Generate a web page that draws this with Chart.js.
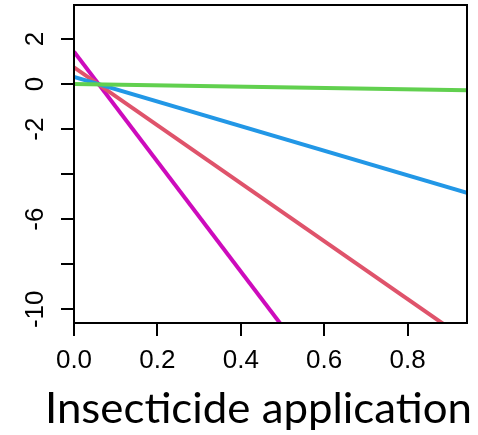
<!DOCTYPE html>
<html>
<head>
<meta charset="utf-8">
<script src="https://cdn.jsdelivr.net/npm/chart.js@4"></script>
<style>
  html, body { margin: 0; padding: 0; background: #fff; }
  canvas { display: block; }
</style>
</head>
<body>
<canvas id="c" width="478" height="435"></canvas>
<script>
// fitted effect lines: value at the left edge and at the right edge of the x range
const xEnds = [0, 0.9425];
const magentaY = [1.44, -21.56];
const redY = [0.74, -11.38];
const blueY = [0.32, -4.83];
const greenY = [0.0, -0.27];

const xTicks = [0, 0.2, 0.4, 0.6, 0.8];
const xTickLabels = ['0.0', '0.2', '0.4', '0.6', '0.8'];
const yTicks = [-10, -8, -6, -4, -2, 0, 2];
const yTickLabels = ['-10', '', '-6', '', '-2', '0', '2'];
const xTitle = 'Insecticide application';

const pts = ys => xEnds.map((x, i) => ({ x, y: ys[i] }));

function series(ys, color) {
  return {
    data: pts(ys),
    borderColor: color,
    borderWidth: 4,
    pointRadius: 0,
    tension: 0,
    clip: 0,
  };
}

// box around the plot, rotated y labels, x labels and the axis title
const frame = {
  id: 'frame',
  afterDraw(chart) {
    const { ctx, chartArea: a, scales } = chart;
    ctx.save();
    ctx.strokeStyle = '#000';
    ctx.lineWidth = 2;
    ctx.strokeRect(a.left, a.top, a.right - a.left, a.bottom - a.top);

    ctx.fillStyle = '#000';
    ctx.font = '26px "Liberation Sans", Arial, sans-serif';
    ctx.textAlign = 'center';
    ctx.textBaseline = 'alphabetic';
    xTicks.forEach((v, i) => {
      ctx.fillText(xTickLabels[i], scales.x.getPixelForValue(v), 368);
    });

    yTicks.forEach((v, i) => {
      if (!yTickLabels[i]) return;
      ctx.save();
      ctx.translate(43, scales.y.getPixelForValue(v));
      ctx.rotate(-Math.PI / 2);
      ctx.fillText(yTickLabels[i], 0, 0);
      ctx.restore();
    });

    ctx.font = '42px Lato, "Open Sans", sans-serif';
    ctx.textAlign = 'left';
    const w = ctx.measureText(xTitle).width;
    ctx.translate(45, 423);
    ctx.scale(427 / w, 1);
    ctx.fillText(xTitle, 0, 0);
    ctx.restore();
  }
};

const tickGrid = {
  display: true,
  drawOnChartArea: false,
  drawTicks: true,
  tickLength: 13,
  color: '#000',
  lineWidth: 2,
};

new Chart(document.getElementById('c'), {
  type: 'line',
  data: {
    datasets: [
      series(greenY, '#61D04F'),
      series(blueY, '#2297E6'),
      series(redY, '#DF536B'),
      series(magentaY, '#CD0BBC'),
    ],
  },
  options: {
    responsive: false,
    animation: false,
    layout: { padding: { left: 0, top: 5, right: 11, bottom: 0 } },
    plugins: { legend: { display: false }, tooltip: { enabled: false } },
    scales: {
      x: {
        type: 'linear',
        min: 0,
        max: 0.9425,
        afterBuildTicks: s => { s.ticks = xTicks.map(value => ({ value })); },
        afterFit: s => { s.height = 112; },
        grid: tickGrid,
        border: { display: false },
        ticks: { display: false },
      },
      y: {
        type: 'linear',
        min: -10.61,
        max: 3.51,
        afterBuildTicks: s => { s.ticks = yTicks.map(value => ({ value })); },
        afterFit: s => { s.width = 74; },
        grid: tickGrid,
        border: { display: false },
        ticks: { display: false },
      },
    },
  },
  plugins: [frame],
});
</script>
</body>
</html>
